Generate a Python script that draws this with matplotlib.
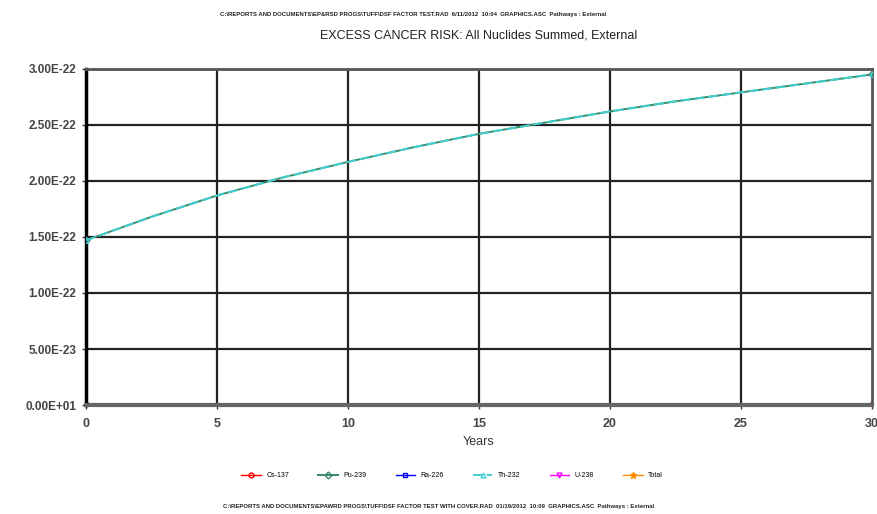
import matplotlib
matplotlib.use('Agg')
import matplotlib.pyplot as plt

plt.rcParams['font.family'] = ['Liberation Sans', 'DejaVu Sans']

# data
years = [0, 2.5, 5, 7.5, 10, 12.5, 15, 17.5, 20, 22.5, 25, 27.5, 30]
risk_pu239 = [1.47e-22, 1.68e-22, 1.87e-22, 2.03e-22, 2.17e-22, 2.30e-22, 2.42e-22,
              2.52e-22, 2.62e-22, 2.71e-22, 2.79e-22, 2.87e-22, 2.95e-22]
risk_zero = [0.0] * len(years)

yticks = [0, 5e-23, 1e-22, 1.5e-22, 2e-22, 2.5e-22, 3e-22]
ytick_labels = ['0.00E+01', '5.00E-23', '1.00E-22', '1.50E-22', '2.00E-22', '2.50E-22', '3.00E-22']
xticks = [0, 5, 10, 15, 20, 25, 30]

fig = plt.figure(figsize=(8.78, 5.14), dpi=100)
ax = fig.add_axes([0.098, 0.212, 0.895, 0.654])

for y in yticks[1:]:
    ax.axhline(y, color='#222222', lw=1.6, zorder=1)
for x in xticks[1:-1]:
    ax.axvline(x, color='#222222', lw=1.6, zorder=1)

me = [0, len(years) - 1]
ax.plot(years, risk_zero, color='red', lw=1, marker='o', ms=3.5, mfc='none', markevery=me, label='Cs-137', zorder=1.5)
ax.plot(years, risk_pu239, color='#3a8a6a', lw=1.4, marker='D', ms=3.5, mfc='none', markevery=me, label='Pu-239', zorder=3)
ax.plot(years, risk_zero, color='blue', lw=1, marker='s', ms=3.5, mfc='none', markevery=me, label='Ra-226', zorder=1.5)
ax.plot(years, risk_pu239, color='#40d0d0', lw=1.4, ls=(0, (5, 2)), marker='^', ms=3.5, mfc='none', markevery=me, label='Th-232', zorder=4)
ax.plot(years, risk_zero, color='magenta', lw=1, marker='v', ms=3.5, mfc='none', markevery=me, label='U-238', zorder=1.5)
ax.plot(years, risk_zero, color='#ff8c00', lw=1, marker='*', ms=5, markevery=me, label='Total', zorder=1.5)

ax.set_xlim(0, 30)
ax.set_ylim(0, 3e-22)
ax.set_xticks(xticks)
ax.set_xticklabels([str(x) for x in xticks], fontsize=9, fontweight='bold', color='#444444')
ax.set_yticks(yticks)
ax.set_yticklabels(ytick_labels, fontsize=8.5, fontweight='bold', color='#444444')
ax.tick_params(axis='x', length=3, width=1, color='#333333', pad=6)
ax.tick_params(axis='y', length=3, width=1, color='#333333', pad=4)
ax.set_xlabel('Years', fontsize=9, color='#333333', labelpad=5)

for s in ['top', 'right']:
    ax.spines[s].set_color('#555555')
    ax.spines[s].set_linewidth(2)
ax.spines['bottom'].set_color('#666666')
ax.spines['bottom'].set_linewidth(3)
ax.spines['left'].set_color('black')
ax.spines['left'].set_linewidth(2.5)

ax.set_title('EXCESS CANCER RISK: All Nuclides Summed, External', fontsize=9, color='#222222', pad=22)
fig.text(0.47, 0.972, 'C:\\REPORTS AND DOCUMENTS\\EP&RSD PROGS\\TUFF\\DSF FACTOR TEST.RAD  6/11/2012  10:04  GRAPHICS.ASC  Pathways : External',
         ha='center', va='center', fontsize=4.3, fontweight='bold', color='#222222')
fig.text(0.5, 0.015, 'C:\\REPORTS AND DOCUMENTS\\EPAWRD PROGS\\TUFF\\DSF FACTOR TEST WITH COVER.RAD  01/19/2012  10:09  GRAPHICS.ASC  Pathways : External',
         ha='center', va='center', fontsize=4.3, fontweight='bold', color='#222222')

fig.legend(loc='center', bbox_to_anchor=(0.515, 0.074), ncol=6, frameon=False, fontsize=5,
           handlelength=2.8, columnspacing=4.2, handletextpad=0.8)

fig.savefig('out.png', dpi=100)
